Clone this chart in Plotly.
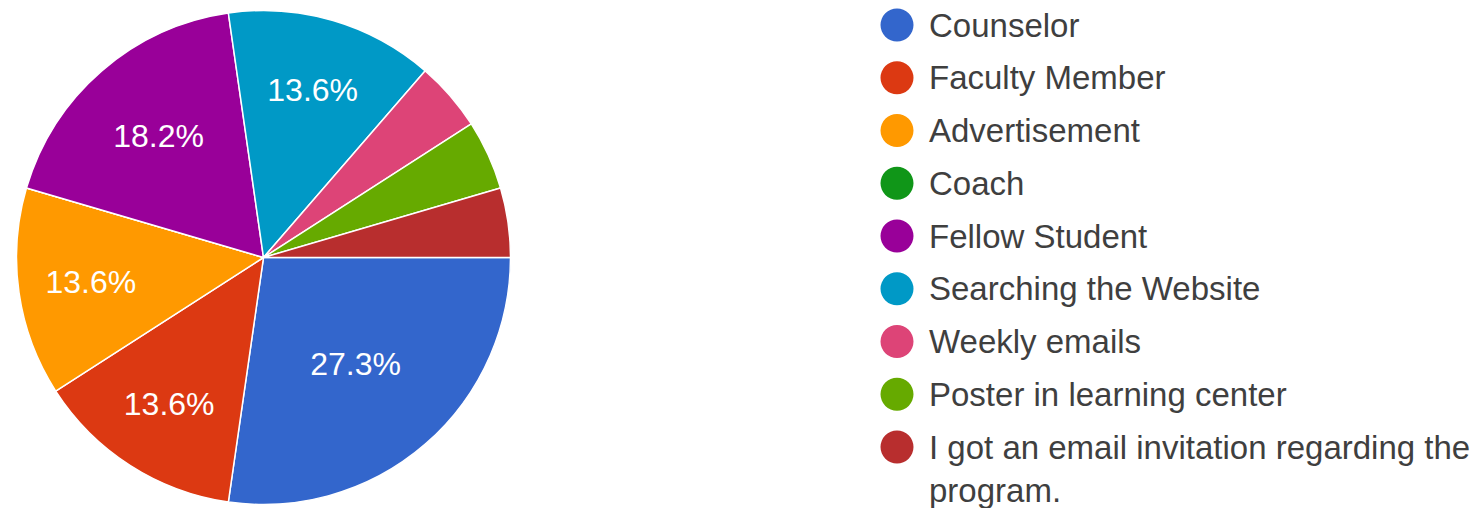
import plotly.graph_objects as go

categories = ["Counselor", "Faculty Member", "Advertisement", "Coach", "Fellow Student",
              "Searching the Website", "Weekly emails", "Poster in learning center",
              "I got an email invitation regarding the\nprogram."]
counts = [6, 3, 3, 0, 4, 3, 1, 1, 1]
colors = ["#3366cc", "#dc3912", "#ff9900", "#109618", "#990099",
          "#0099c6", "#dd4477", "#66aa00", "#b82e2e"]

W, H = 1480, 508
total = sum(counts)
labels_txt = [f"{c / total * 100:.1f}%" if c / total >= 0.1 else "" for c in counts]
FONT = "Liberation Sans, Arial, sans-serif"

fig = go.Figure()
fig.add_trace(go.Pie(
    labels=[c.replace("\n", " ") for c in categories],
    values=counts,
    text=labels_txt,
    textinfo="text",
    textposition="inside",
    insidetextorientation="horizontal",
    textfont=dict(family=FONT, size=32, color="white"),
    marker=dict(colors=colors, line=dict(color="white", width=1.5)),
    sort=False,
    direction="clockwise",
    rotation=90,
    showlegend=False,
    domain=dict(x=[16.5 / W, 510.5 / W], y=[1 - 504.5 / H, 1 - 10.5 / H]),
    hoverinfo="label+percent",
))

shapes = []
annotations = []
row_y0, row_step, line_step = 25, 52.75, 43
cx, r, tx = 897, 16.5, 927
for i, (cat, col) in enumerate(zip(categories, colors)):
    ypx = row_y0 + i * row_step
    yp = 1 - ypx / H
    shapes.append(dict(type="circle", xref="paper", yref="paper",
                       xsizemode="pixel", ysizemode="pixel",
                       xanchor=cx / W, yanchor=yp,
                       x0=-r, x1=r, y0=-r, y1=r,
                       fillcolor=col, line=dict(width=0)))
    for j, line in enumerate(cat.split("\n")):
        annotations.append(dict(x=tx / W, y=1 - (ypx + j * line_step) / H,
                                xref="paper", yref="paper",
                                xanchor="left", yanchor="middle",
                                text=line, showarrow=False,
                                font=dict(family=FONT, size=33, color="#3f3f3f")))

fig.update_layout(
    width=W, height=H,
    margin=dict(l=0, r=0, t=0, b=0),
    paper_bgcolor="white", plot_bgcolor="white",
    shapes=shapes, annotations=annotations,
)

fig.write_html("out.html",
               config={"displayModeBar": False},
               post_script="document.body.style.margin='0';document.body.style.overflow='hidden';")
